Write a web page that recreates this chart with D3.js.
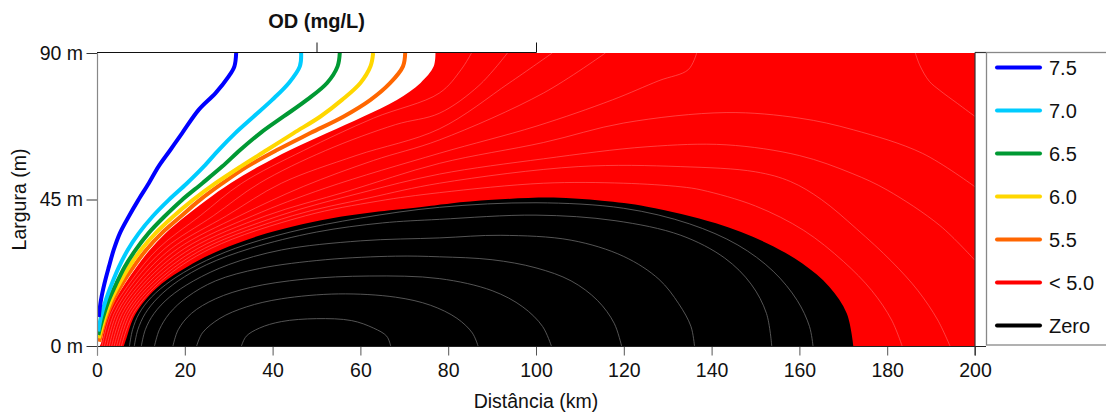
<!DOCTYPE html>
<html><head><meta charset="utf-8">
<script src="https://cdn.jsdelivr.net/npm/d3@7"></script>
<style>
body{margin:0;background:#fff}
svg{display:block;font-family:"Liberation Sans",Arial,Helvetica,sans-serif}
</style>
</head><body>
<svg id="chart" width="1106" height="416"></svg>
<script>
// ---------- DATA (km, m) ----------
const xTicks = [0,20,40,60,80,100,120,140,160,180,200];
const yTicks = [0,45,90];
const topTicks = [50,100];

const legendLabels = ["7.5","7.0","6.5","6.0","5.5","< 5.0","Zero"];
const legendColors = ["#0000ff","#00ccff","#009933","#ffd700","#ff6600","#ff0000","#000000"];

// coloured iso-lines of OD (mg/L)
const od75 = [[31.7,90],[31.3,85.9],[30.0,82.8],[27.0,77.7],[23.2,72.6],[19.4,65.4],[16.7,60.2],[14.0,55.1],[11.8,50.0],[9.4,44.8],[7.2,39.7],[5.2,34.6],[3.8,29.5],[2.7,24.3],[1.7,19.2],[0.9,14.1],[0.4,8.9]];
const od70 = [[46.5,90],[46.2,85.9],[43.7,80.8],[39.9,75.6],[35.7,70.5],[31.5,65.4],[27.7,60.2],[24.3,55.1],[20.5,50.0],[16.3,44.8],[12.6,39.7],[9.5,34.6],[7.0,29.5],[5.0,24.3],[3.4,19.2],[2.0,14.1],[0.9,8.9],[0.3,4.5]];
const od65 = [[55.3,90],[54.8,85.9],[52.4,80.8],[47.8,75.6],[42.5,70.5],[37.2,65.4],[32.6,60.2],[28.5,55.1],[24.0,50.0],[19.3,44.8],[15.3,39.7],[11.7,34.6],[8.8,29.5],[6.3,24.3],[4.4,19.2],[2.7,14.1],[1.4,8.9],[0.3,3.4]];
const od60 = [[62.9,90],[62.3,85.9],[60.0,80.8],[55.8,75.6],[50.9,70.5],[44.8,65.4],[38.7,60.2],[32.7,55.1],[27.0,50.0],[21.8,44.8],[17.3,39.7],[13.3,34.6],[10.0,29.5],[7.3,24.3],[5.1,19.2],[3.2,14.1],[1.8,8.9],[0.4,2.4]];
const od55 = [[70.2,90],[69.7,85.9],[66.8,80.8],[62.3,75.6],[56.2,70.5],[48.6,65.4],[41.0,60.2],[34.2,55.1],[28.6,50.0],[23.4,44.8],[19.0,39.7],[14.7,34.6],[11.2,29.5],[8.3,24.3],[5.8,19.2],[3.7,14.1],[2.1,8.9],[0.5,1.3]];

// edge of the "< 5.0" (red) region
const od50Edge = [[0.6,0],[0.9,0.8],[2.3,8.9],[4.1,14.1],[6.4,19.2],[9.0,24.3],[12.0,29.5],[15.6,34.6],[20.0,39.7],[24.9,44.8],[30.4,50],[36.8,55.1],[44,60.2],[52.4,65.4],[60.7,70.5],[68.3,75.6],[73.7,80.8],[76.7,85.9],[77.1,90]];
// edge of the "Zero" (black) region
const zeroEdge = [[6.1,0],[6.8,2.8],[8.4,8.9],[11,14.1],[14.8,19.2],[20.5,24.3],[28.1,29.5],[38.7,34.6],[55.4,39.7],[74.4,42.8],[80.5,43.8],[90,44.9],[104,45.6],[115,44.6],[125.3,42.8],[141,37.7],[152.7,31.5],[160.6,25.4],[166.8,18.2],[170.8,10],[172.3,0]];

// faint iso-lines inside the red region
const redA = [[1.15,0],[3.2,10],[7.8,20],[14.0,30],[23.5,40],[33,50],[47,60],[63,70],[78,77.7],[83,85],[85.3,90]];
const redB = [[1.7,0],[3.9,10],[8.6,20],[15.5,30],[26.5,40],[37,50],[52,60],[68,68],[78,71.5],[87,80],[93.5,90]];
const redC = [[2.25,0],[4.5,10],[9.5,20],[17,30],[29.5,40],[42,50],[59,58.5],[78,66.7],[93.9,80.8],[103.7,90]];
const redD = [[2.8,0],[5.1,10],[10.4,20],[18.5,30],[32.5,40],[47,49],[63,57],[78,63.3],[101.7,77.7],[115.8,90]];
const redE = [[3.35,0],[5.75,10],[11.25,20],[20,30],[35.5,40],[52,48.5],[78,59.2],[100,67.5],[117.4,75.6],[128,81.5],[134.7,84.9],[136.6,90]];
const redF = [[3.9,0],[6.4,10],[12.1,20],[21.5,30],[38.5,40],[57,47.5],[78,56.1],[101.7,62.5],[120,68.5],[143.3,71.7],[160,70],[172.3,66.4],[188,59.2],[200,48.9]];
const redG = [[4.45,0],[7.0,10],[13.0,20],[23,30],[41.5,40],[60,47],[78,52.8],[101.7,57.5],[125.3,61.2],[143.3,61.8],[160,58.5],[172,53],[180,47.9],[192,37],[200,26.3]];
const redH = [[5.0,0],[7.6,10],[13.9,20],[24.5,30],[44.5,40],[62,45.5],[78,50.0],[109.6,55.1],[133,55.1],[150,53.5],[158,50.5],[165,45],[173,36],[181,26],[187,17],[191.5,8],[194.3,0]];
const redI = [[5.55,0],[8.3,10],[14.7,20],[26,30],[47.5,40],[64,44.5],[78,47.1],[101.7,50],[120,50],[133,48.9],[137.8,47.9],[150,43],[161,35.5],[170,26],[176.5,17],[181,8],[183.4,0]];
const redTopRight = [[186.4,90],[187.5,86],[189.6,81.3],[192,78.5],[196,74.5],[200,70.5]];

// faint iso-lines inside the black region
const zero1 = [[32.9,0],[34,3],[37,5.5],[42,7.5],[50,8.4],[58,7.8],[63,5.5],[66,3],[66.9,0]];
const zero2 = [[22.7,0],[24,4],[28,8.5],[34,12],[42,14.5],[55,16],[68,15],[76,12.5],[82,8.5],[85.5,4],[86.8,0]];
const zero3 = [[17.3,0],[18.5,5],[21.5,10],[27,14.5],[35,18],[47,20.5],[62,21.5],[78,20.7],[90,17],[97,12],[101.5,6],[103.5,0]];
const zero4 = [[13.1,0],[14.2,5],[16.5,10],[20.5,15],[27,20],[37,23.8],[52,26.5],[68,27.6],[78,27.4],[90,26.5],[100,24],[108,20],[114,14],[117.8,7],[119.5,0]];
const zero5 = [[10.1,0],[11,5],[13,10],[16.5,15],[22,20],[30,25],[42,29.5],[60,32.3],[78,33.2],[92,34],[108,32.5],[120,27.5],[128,20.5],[132.5,13],[135.3,6],[136.1,0]];
const zero6 = [[8.5,0],[9.3,5],[11,10],[14,15],[18.5,20],[25,25],[35,30],[50,35],[65,37.8],[78,38.9],[100,40.2],[118,38.5],[133,34],[143,27],[149,19],[152.5,10],[153.7,0]];
const zero7 = [[7.4,0],[8.1,5],[9.6,10],[12.4,15],[16.8,20],[23,25],[31.5,30],[44,35],[60,39.3],[78,42.6],[100,44.0],[120,42.3],[135,37.5],[146,31],[154,23],[159.5,14],[162.3,6],[163.1,0]];

// ---------- DRAWING ----------
const svg = d3.select("#chart");
const FS = "19.5px";
const x = d3.scaleLinear().domain([0,200]).range([97,975]);
const y = d3.scaleLinear().domain([0,90]).range([346,53]);

svg.append("defs").append("clipPath").attr("id","plotclip")
  .append("rect").attr("x",x(0)).attr("y",y(90)).attr("width",x(200)-x(0)).attr("height",y(0)-y(90));

const line = d3.line().x(d=>x(d[0])).y(d=>y(d[1])).curve(d3.curveCatmullRom.alpha(0.5));
const plot = svg.append("g").attr("clip-path","url(#plotclip)");

// red (< 5.0) region
plot.append("path")
  .attr("d", line(od50Edge) + `L${x(200)},${y(90)}L${x(200)},${y(0)}Z`)
  .attr("fill","#ff0000");
[redA,redB,redC,redD,redE,redF,redG,redH,redI,redTopRight].forEach(c=>{
  plot.append("path").attr("d",line(c)).attr("fill","none")
    .attr("stroke","#ff6a6a").attr("stroke-width",0.6);
});

// black (zero) region
plot.append("path").attr("d", line(zeroEdge) + "Z").attr("fill","#000");
[zero1,zero2,zero3,zero4,zero5,zero6,zero7].forEach(c=>{
  plot.append("path").attr("d",line(c)).attr("fill","none")
    .attr("stroke","#6a6a6a").attr("stroke-width",0.8);
});

// coloured iso-lines
[[od55,legendColors[4]],[od60,legendColors[3]],[od65,legendColors[2]],[od70,legendColors[1]],[od75,legendColors[0]]].forEach(([c,col])=>{
  plot.append("path").attr("d",line(c)).attr("fill","none")
    .attr("stroke",col).attr("stroke-width",4).attr("stroke-linejoin","round");
});

// ---------- AXES ----------
const xAxis = svg.append("g").attr("transform",`translate(0,${y(0)})`)
  .call(d3.axisBottom(x).tickValues(xTicks).tickSize(9.5).tickSizeOuter(0).tickPadding(7.5).tickFormat(d3.format("d")));
xAxis.select(".domain").remove();
xAxis.selectAll(".tick line").attr("stroke","#555");
xAxis.selectAll("text").attr("font-size",FS).attr("fill","#111").attr("font-family","Liberation Sans, Arial, sans-serif");
svg.append("line").attr("x1",x(0)).attr("x2",986).attr("y1",y(0)+0.5).attr("y2",y(0)+0.5)
  .attr("stroke","#222").attr("stroke-width",1.2);

const yAxis = svg.append("g").attr("transform",`translate(${x(0)},0)`)
  .call(d3.axisLeft(y).tickValues(yTicks).tickSize(10.5).tickSizeOuter(0).tickPadding(3.5).tickFormat(d=>`${d} m`));
yAxis.select(".domain").remove();
yAxis.selectAll(".tick line").attr("stroke","#333");
yAxis.selectAll("text").attr("font-size",FS).attr("fill","#111").attr("font-family","Liberation Sans, Arial, sans-serif");
svg.append("line").attr("x1",x(0)+0.5).attr("x2",x(0)+0.5).attr("y1",y(90)).attr("y2",y(0)+9.5)
  .attr("stroke","#888").attr("stroke-width",1.2);

// top axis (0-100 km, unlabeled ticks)
const topAxis = svg.append("g").attr("transform",`translate(0,${y(90)-0.5})`)
  .call(d3.axisTop(x).tickValues(topTicks).tickSize(10).tickSizeOuter(0).tickFormat(""));
topAxis.select(".domain").remove();
topAxis.selectAll(".tick line").attr("stroke","#111");
svg.append("line").attr("x1",x(0)).attr("x2",x(100)+0.5).attr("y1",y(90)-0.5).attr("y2",y(90)-0.5)
  .attr("stroke","#111").attr("stroke-width",1.2);

// right border
svg.append("line").attr("x1",x(200)).attr("x2",x(200)).attr("y1",y(90)-0.5).attr("y2",y(0)+9.5)
  .attr("stroke","#333").attr("stroke-width",1.2);
svg.append("line").attr("x1",x(200)).attr("x2",986).attr("y1",y(90)-0.5).attr("y2",y(90)-0.5)
  .attr("stroke","#333").attr("stroke-width",1.2);

// titles
svg.append("text").attr("x",x(50)).attr("y",27.5).attr("text-anchor","middle")
  .attr("font-size","20px").attr("font-weight","bold").attr("fill","#111").text("OD (mg/L)");
svg.append("text").attr("x",(x(0)+x(200))/2).attr("y",408).attr("text-anchor","middle")
  .attr("font-size",FS).attr("fill","#111").text("Distância (km)");
svg.append("text").attr("transform",`translate(25.5,${(y(0)+y(90))/2}) rotate(-90)`).attr("text-anchor","middle")
  .attr("font-size",FS).attr("fill","#111").text("Largura (m)");

// ---------- LEGEND ----------
const lg = svg.append("g");
lg.append("rect").attr("x",986.5).attr("y",52.5).attr("width",140).attr("height",292.5)
  .attr("fill","#fff").attr("stroke","#888").attr("stroke-width",1.3);
legendLabels.forEach((lab,i)=>{
  const yy = 67.5 + i*43;
  lg.append("line").attr("x1",997).attr("x2",1040).attr("y1",yy).attr("y2",yy)
    .attr("stroke",legendColors[i]).attr("stroke-width",4).attr("stroke-linecap","round");
  lg.append("text").attr("x",1049).attr("y",yy).attr("dy","0.36em")
    .attr("font-size","20px").attr("fill","#111").text(lab);
});
</script>
</body></html>
